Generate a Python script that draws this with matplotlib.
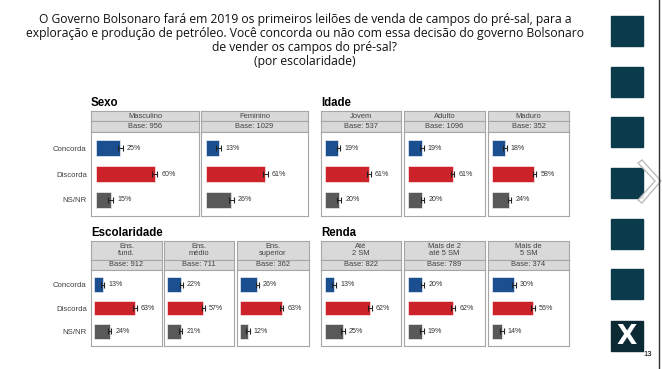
import matplotlib.pyplot as plt
from matplotlib.patches import Rectangle, Polygon

# dados
respostas = ["Concorda", "Discorda", "NS/NR"]
cores = ["#1c4f8f", "#cc2229", "#595959"]

sexo_grupos = ["Masculino", "Feminino"]
sexo_bases = [956, 1029]
sexo_concorda = [25, 13]
sexo_discorda = [60, 61]
sexo_nsnr = [15, 26]

idade_grupos = ["Jovem", "Adulto", "Maduro"]
idade_bases = [537, 1096, 352]
idade_concorda = [19, 19, 18]
idade_discorda = [61, 61, 58]
idade_nsnr = [20, 20, 24]

escol_grupos = ["Ens.\nfund.", "Ens.\nmédio", "Ens.\nsuperior"]
escol_bases = [912, 711, 362]
escol_concorda = [13, 22, 26]
escol_discorda = [63, 57, 63]
escol_nsnr = [24, 21, 12]

renda_grupos = ["Até\n2 SM", "Mais de 2\naté 5 SM", "Mais de\n5 SM"]
renda_bases = [822, 789, 374]
renda_concorda = [13, 20, 30]
renda_discorda = [62, 62, 56]
renda_nsnr = [25, 19, 14]

margem = 2.5

titulo = ("O Governo Bolsonaro fará em 2019 os primeiros leilões de venda de campos do pré-sal, para a\n"
          "exploração e produção de petróleo. Você concorda ou não com essa decisão do governo Bolsonaro\n"
          "de vender os campos do pré-sal?\n(por escolaridade)")

W, H = 662, 369
fig = plt.figure(figsize=(W / 100, H / 100), dpi=100)
plt.rcParams['font.family'] = ['Liberation Sans', 'DejaVu Sans']


def eixo(x0, y0, x1, y1):
    return fig.add_axes([x0 / W, 1 - y1 / H, (x1 - x0) / W, (y1 - y0) / H])


# fundo / decoracao da pagina
fundo = eixo(0, 0, W, H)
fundo.set_xlim(0, W)
fundo.set_ylim(H, 0)
fundo.axis("off")
for y in [16, 67, 117, 168, 219, 269]:
    fundo.add_patch(Rectangle((611, y), 32, 30, color="#0b3a4a"))
fundo.add_patch(Rectangle((611, 321), 32, 30, color="#0b2a33"))
fundo.text(627, 337, "X", color="white", fontsize=19, fontweight="bold",
           ha="center", va="center", family=["DejaVu Sans"])
fundo.plot([659, 659], [0, H], color="#333333", lw=1)
fundo.add_patch(Polygon([(638, 163), (642, 160), (661, 181), (642, 203), (638, 200), (655, 181)],
                        facecolor="white", edgecolor="#b5b5b5", lw=1, alpha=0.9))
fundo.text(648, 355, "13", fontsize=5.5, ha="center", va="center")
fundo.text(305, 40, titulo, ha="center", va="center", fontsize=8.75,
           family=["Open Sans", "DejaVu Sans"], linespacing=1.1, color="#111111")


def painel(nome, tx, grupos, bases, conc, disc, ns, xs, yh, yb, ytop, ybot, rotulos):
    fundo.text(tx, yh - 2.5, nome, fontsize=8.3, fontweight="bold", ha="left", va="bottom")
    for i, (x0, x1) in enumerate(xs):
        cab = eixo(x0, yh, x1, yb)
        cab.set_facecolor("#d9d9d9")
        cab.text(0.5, 0.5, grupos[i], ha="center", va="center", fontsize=5.4,
                 color="#404040", linespacing=1.0, transform=cab.transAxes)
        base = eixo(x0, yb, x1, ytop)
        base.set_facecolor("#d9d9d9")
        base.text(0.5, 0.5, f"Base: {bases[i]}", ha="center", va="center", fontsize=5.4,
                  color="#404040", transform=base.transAxes)
        ax = eixo(x0, ytop, x1, ybot)
        valores = [conc[i], disc[i], ns[i]]
        ax.barh(range(3), valores, height=0.62, color=cores, edgecolor="white", lw=0.4)
        ax.errorbar(valores, range(3), xerr=margem, fmt="none", ecolor="#222222",
                    elinewidth=0.7, capsize=2.3, capthick=0.8)
        for y, v in enumerate(valores):
            ax.annotate(f"{v}%", (v + margem, y), xytext=(3, 0), textcoords="offset points",
                        ha="left", va="center", fontsize=5.1, color="#333333")
        ax.set_xlim(-5, 105)
        ax.set_ylim(2.62, -0.65)
        ax.set_xticks([])
        if rotulos and i == 0:
            ax.set_yticks(range(3))
            ax.set_yticklabels(respostas, fontsize=5.6, color="#404040")
            ax.tick_params(axis="y", length=0, pad=3)
        else:
            ax.set_yticks([])
        for a in (cab, base, ax):
            a.set_xticks([])
            for s in a.spines.values():
                s.set_color("#a6a6a6")
                s.set_linewidth(0.8)
        cab.set_yticks([])
        base.set_yticks([])


painel("Sexo", 91, sexo_grupos, sexo_bases, sexo_concorda, sexo_discorda, sexo_nsnr,
       [(91, 199), (201, 308)], 111, 121, 131.5, 216, True)
painel("Idade", 321, idade_grupos, idade_bases, idade_concorda, idade_discorda, idade_nsnr,
       [(321, 401), (404, 485), (488, 569)], 111, 121, 131.5, 216, False)
painel("Escolaridade", 91, escol_grupos, escol_bases, escol_concorda, escol_discorda, escol_nsnr,
       [(91, 162), (164, 234), (237, 309)], 241, 259.5, 269.5, 346, True)
painel("Renda", 321, renda_grupos, renda_bases, renda_concorda, renda_discorda, renda_nsnr,
       [(321, 401), (404, 485), (488, 569)], 241, 259.5, 269.5, 346, False)

fig.savefig("out.png", dpi=100)
